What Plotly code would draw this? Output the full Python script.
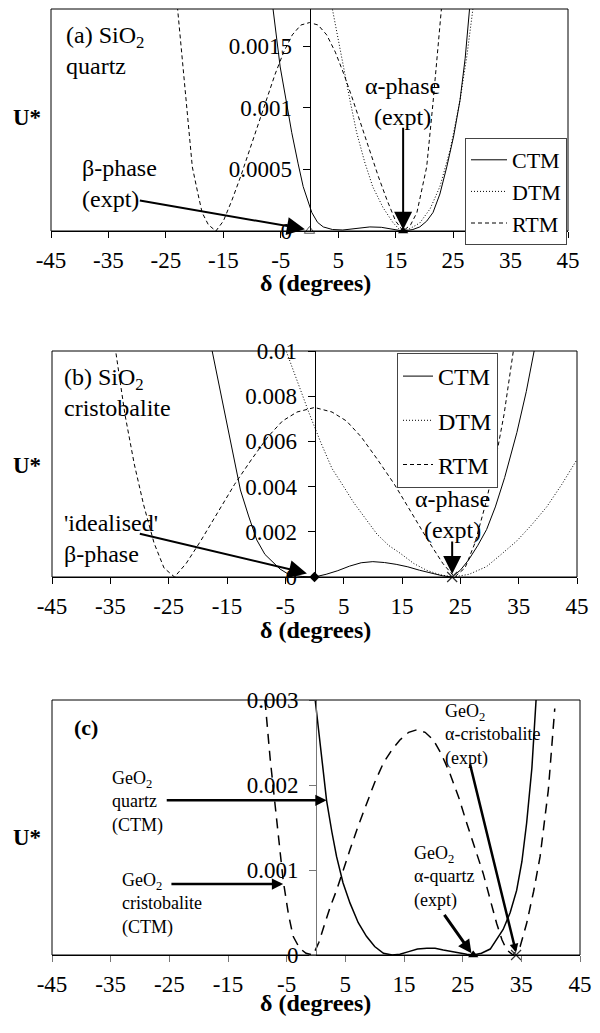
import plotly.graph_objects as go

FONT = "Liberation Serif"
W, H = 600, 1033

# ---------------- data: panel (a) SiO2 quartz ----------------
a_ctm_x = [-6.4, -5.1, -4.0, -3.1, -2.0, -1.1, 0.4, 1.4, 2.4, 4.0, 5.8, 8.0, 10.5, 12.5, 14.5,
           16.3, 18.0, 19.2, 20.4, 21.5, 22.7, 23.9, 25.1, 26.2, 27.1, 27.9]
a_ctm_u = [0.00182, 0.00133, 0.00104, 0.00080, 0.00055, 0.00036, 0.00015, 0.00007, 0.000033,
           0.000012, 0.000008, 0.000018, 0.000033, 0.00003, 0.000012, 0.0, 0.000012, 0.000033,
           0.00008, 0.00015, 0.00030, 0.00052, 0.00077, 0.00106, 0.00140, 0.00182]

a_dtm_x = [3.9, 5.0, 5.9, 7.0, 8.2, 9.6, 11.0, 12.8, 14.5, 15.5, 16.3, 17.5, 19.2, 21.0, 22.7,
           24.5, 26.2, 27.4, 28.5]
a_dtm_u = [0.00182, 0.00155, 0.00134, 0.00107, 0.00080, 0.00056, 0.00036, 0.00019, 0.00007,
           0.00002, 0.0, 0.00002, 0.000065, 0.00018, 0.00036, 0.00066, 0.00106, 0.00142, 0.00182]

a_rtm_x = [-23.0, -22.2, -21.5, -20.4, -19.5, -18.7, -17.6, -16.3, -15.0, -13.5, -12.0, -10.5,
           -9.0, -7.5, -6.0, -4.5, -3.0, -1.5, 0.0, 1.5, 3.0, 4.5, 6.0, 7.5, 9.0, 10.5, 12.0,
           13.5, 15.0, 16.3, 17.6, 18.7, 19.5, 20.4, 21.5, 22.2, 23.0]
a_rtm_u = [0.00182, 0.00140, 0.00104, 0.00052, 0.00032, 0.00015, 0.00005, 0.0, 0.00008, 0.00025,
           0.00044, 0.00065, 0.00086, 0.00107, 0.00127, 0.00145, 0.00159, 0.00167, 0.00169,
           0.00167, 0.00159, 0.00145, 0.00127, 0.00107, 0.00086, 0.00065, 0.00044, 0.00025,
           0.00008, 0.0, 0.00005, 0.00015, 0.00032, 0.00052, 0.00104, 0.00140, 0.00182]

a_beta_x, a_beta_u = [0.0], [0.0]
a_alpha_x, a_alpha_u = [16.3], [0.0]

# ---------------- data: panel (b) SiO2 cristobalite ----------------
b_ctm_x = [-17.7, -16.3, -15.0, -13.8, -12.7, -11.3, -9.9, -8.5, -7.0, -5.9, -4.7, -3.3, -2.0,
           -1.0, 0.0, 2.0, 4.0, 6.0, 8.0, 10.0, 12.0, 14.0, 16.0, 18.0, 20.0, 22.0, 23.5, 25.0,
           26.4, 28.0, 29.5, 31.0, 32.6, 34.7, 36.3, 37.8]
b_ctm_u = [0.0102, 0.0084, 0.0068, 0.0053, 0.00385, 0.0027, 0.00164, 0.0010, 0.0006, 0.00035,
           0.00016, 0.00006, 0.00002, 0.0, 0.0, 0.00012, 0.00028, 0.00048, 0.00063, 0.00068,
           0.00064, 0.00056, 0.00045, 0.0003, 0.00016, 0.00005, 0.0, 0.0003, 0.00075, 0.0014,
           0.0021, 0.0031, 0.0044, 0.0064, 0.0082, 0.0102]

b_dtm_x = [-5.0, -3.0, -1.0, 1.0, 3.0, 5.0, 6.7, 8.7, 10.7, 12.7, 14.7, 17.0, 19.2, 21.5, 23.8,
           26.5, 29.5, 32.0, 34.7, 37.2, 39.8, 42.4, 45.0]
b_dtm_u = [0.0101, 0.0087, 0.0073, 0.0060, 0.0048, 0.0040, 0.0033, 0.0026, 0.0019, 0.0014,
           0.00105, 0.0006, 0.0003, 0.0001, 0.0, 0.00012, 0.00046, 0.0010, 0.0016, 0.0023,
           0.0031, 0.0041, 0.0052]

b_rtm_x = [-34.2, -32.5, -30.9, -29.3, -27.5, -25.8, -24.0, -22.0, -19.5, -16.5, -13.7, -10.8,
           -8.0, -5.5, -3.0, 0.0, 3.0, 5.5, 8.0, 10.8, 13.7, 16.5, 19.5, 22.0, 24.0, 25.8, 27.5,
           29.3, 30.9, 32.5, 34.2]
b_rtm_u = [0.0102, 0.0072, 0.0050, 0.0032, 0.0015, 0.0004, 0.0, 0.0006, 0.0016, 0.0029, 0.0041,
           0.0052, 0.0062, 0.0069, 0.0073, 0.0075, 0.0073, 0.0069, 0.0062, 0.0052, 0.0041, 0.0029,
           0.0016, 0.0006, 0.0, 0.0004, 0.0015, 0.0032, 0.0050, 0.0072, 0.0102]

b_beta_x, b_beta_u = [0.0], [0.0]
b_alpha_x, b_alpha_u = [23.6], [0.0]

# ---------------- data: panel (c) GeO2 ----------------
c_qtz_x = [-0.3, 0.8, 1.8, 2.7, 3.5, 4.6, 5.8, 7.2, 8.6, 10.0, 11.5, 13.0, 14.3, 15.8, 17.3,
           18.9, 20.3, 21.7, 23.1, 24.5, 25.7, 26.8, 28.2, 29.7, 30.8, 31.9, 33.1, 34.2, 35.1,
           35.9, 36.8, 37.6]
c_qtz_u = [0.0031, 0.0024, 0.00182, 0.00145, 0.00116, 0.00085, 0.00061, 0.00038, 0.00022,
           0.0001, 0.00002, 0.0, 0.00001, 0.00004, 0.00007, 0.00008, 0.00008, 0.00006, 0.00004,
           0.00002, 0.00001, 0.0, 0.00002, 0.00007, 0.00018, 0.0003, 0.0005, 0.00076, 0.0011,
           0.00155, 0.0022, 0.0031]

c_cri_x = [-8.7, -7.8, -6.7, -5.6, -4.7, -3.9, -2.8, -1.7, -0.5, 0.5, 1.5, 2.5, 3.5, 4.6, 5.8,
           7.2, 8.6, 10.0, 11.5, 12.9, 14.3, 15.8, 17.2, 18.6, 20.0, 21.4, 22.8, 24.3, 25.7,
           27.1, 28.5, 29.7, 30.8, 31.7, 32.5, 33.6, 34.8, 35.9, 37.1, 38.2, 39.6, 40.7]
c_cri_u = [0.0030, 0.0023, 0.00159, 0.00088, 0.00048, 0.00022, 0.00008, 0.00002, 0.0, 0.00015,
           0.00037, 0.00058, 0.00076, 0.0010, 0.00124, 0.00152, 0.00178, 0.00203, 0.00226,
           0.00241, 0.00253, 0.00262, 0.00265, 0.00262, 0.00253, 0.00236, 0.00214, 0.00186,
           0.00155, 0.00125, 0.00096, 0.00065, 0.00037, 0.00018, 0.00006, 0.0, 0.0001, 0.00037,
           0.00075, 0.00116, 0.00194, 0.0029]

c_aq_x, c_aq_u = [26.8], [0.0]
c_ac_x, c_ac_u = [34.1], [0.0]

# ---------------- ticks ----------------
x_ticks = [-45, -35, -25, -15, -5, 5, 15, 25, 35, 45]
a_yticks = [0, 0.0005, 0.001, 0.0015]
a_yticktext = ["0", "0.0005", "0.001", "0.0015"]
b_yticks = [0, 0.002, 0.004, 0.006, 0.008, 0.01]
b_yticktext = ["0", "0.002", "0.004", "0.006", "0.008", "0.01"]
c_yticks = [0, 0.001, 0.002, 0.003]
c_yticktext = ["0", "0.001", "0.002", "0.003"]


def px(x):
    return x / W


def py(y):
    return 1 - y / H


fig = go.Figure()

ctm_line = dict(color="black", width=1)
dtm_line = dict(color="black", width=1, dash="1px,2px")
rtm_line = dict(color="black", width=1, dash="4px,3px")

# panel a
fig.add_trace(go.Scatter(x=a_ctm_x, y=a_ctm_u, mode="lines", line=ctm_line, name="CTM",
                         xaxis="x", yaxis="y", legend="legend", legendgroup="a1"))
fig.add_trace(go.Scatter(x=a_dtm_x, y=a_dtm_u, mode="lines", line=dtm_line, name="DTM",
                         xaxis="x", yaxis="y", legend="legend", legendgroup="a2"))
fig.add_trace(go.Scatter(x=a_rtm_x, y=a_rtm_u, mode="lines", line=rtm_line, name="RTM",
                         xaxis="x", yaxis="y", legend="legend", legendgroup="a3"))
fig.add_trace(go.Scatter(x=a_beta_x, y=a_beta_u, mode="markers", showlegend=False, cliponaxis=False,
                         marker=dict(symbol="triangle-up-open", size=9, color="#555", line=dict(width=1)),
                         xaxis="x", yaxis="y"))
fig.add_trace(go.Scatter(x=a_alpha_x, y=a_alpha_u, mode="markers", showlegend=False, cliponaxis=False,
                         marker=dict(symbol="triangle-up", size=9, color="black"),
                         xaxis="x", yaxis="y"))

# panel b
fig.add_trace(go.Scatter(x=b_ctm_x, y=b_ctm_u, mode="lines", line=ctm_line, name="CTM",
                         xaxis="x2", yaxis="y2", legend="legend2", legendgroup="b1"))
fig.add_trace(go.Scatter(x=b_dtm_x, y=b_dtm_u, mode="lines", line=dtm_line, name="DTM",
                         xaxis="x2", yaxis="y2", legend="legend2", legendgroup="b2"))
fig.add_trace(go.Scatter(x=b_rtm_x, y=b_rtm_u, mode="lines", line=rtm_line, name="RTM",
                         xaxis="x2", yaxis="y2", legend="legend2", legendgroup="b3"))
fig.add_trace(go.Scatter(x=b_beta_x, y=b_beta_u, mode="markers", showlegend=False, cliponaxis=False,
                         marker=dict(symbol="diamond", size=8, color="black"),
                         xaxis="x2", yaxis="y2"))
fig.add_trace(go.Scatter(x=b_alpha_x, y=b_alpha_u, mode="markers", showlegend=False, cliponaxis=False,
                         marker=dict(symbol="x-thin-open", size=10, color="#333", line=dict(width=1.2)),
                         xaxis="x2", yaxis="y2"))

# panel c
fig.add_trace(go.Scatter(x=c_qtz_x, y=c_qtz_u, mode="lines", showlegend=False,
                         line=dict(color="black", width=1.5), xaxis="x3", yaxis="y3"))
fig.add_trace(go.Scatter(x=c_cri_x, y=c_cri_u, mode="lines", showlegend=False,
                         line=dict(color="black", width=1.5, dash="10px,7px"), xaxis="x3", yaxis="y3"))
fig.add_trace(go.Scatter(x=c_aq_x, y=c_aq_u, mode="markers", showlegend=False, cliponaxis=False,
                         marker=dict(symbol="triangle-up", size=9, color="black"),
                         xaxis="x3", yaxis="y3"))
fig.add_trace(go.Scatter(x=c_ac_x, y=c_ac_u, mode="markers", showlegend=False, cliponaxis=False,
                         marker=dict(symbol="x-thin-open", size=10, color="#333", line=dict(width=1.2)),
                         xaxis="x3", yaxis="y3"))

tickfont = dict(family=FONT, size=23, color="black")


def xax(domain, anchor, tcol="black"):
    return dict(domain=domain, anchor=anchor, range=[-45, 45], tickvals=x_ticks,
                ticktext=[str(v) for v in x_ticks], showline=True, linecolor="black", linewidth=1,
                ticks="outside", ticklen=6, tickcolor=tcol, tickwidth=1, showgrid=False,
                zeroline=False, tickfont=tickfont, ticklabelstandoff=2, automargin=False)


def yax(domain, pos, rng, vals, text, lcol="black"):
    return dict(domain=domain, anchor="free", position=pos, range=rng, tickvals=vals,
                ticktext=text, showline=True, linecolor=lcol, linewidth=1, ticks="outside",
                ticklen=7, tickcolor=lcol, showgrid=False, zeroline=False, tickfont=tickfont,
                ticklabelstandoff=6, automargin=False)


a_dx = [px(51), px(568)]
a_dy = [py(231), py(9)]
b_dx = [px(52), px(577)]
b_dy = [py(577), py(351)]
c_dx = [px(52), px(580)]
c_dy = [py(955), py(700)]

fig.update_layout(
    width=W, height=H, margin=dict(l=0, r=0, t=0, b=0, pad=0, autoexpand=False),
    paper_bgcolor="white", plot_bgcolor="white",
    font=dict(family=FONT, size=24, color="black"),
    xaxis=xax(a_dx, "y"),
    yaxis=yax(a_dy, (a_dx[0] + a_dx[1]) / 2, [0, 0.0018], a_yticks, a_yticktext),
    xaxis2=xax(b_dx, "y2"),
    yaxis2=yax(b_dy, (b_dx[0] + b_dx[1]) / 2, [0, 0.01], b_yticks, b_yticktext),
    xaxis3=xax(c_dx, "y3", "#777"),
    yaxis3=yax(c_dy, (c_dx[0] + c_dx[1]) / 2, [0, 0.003], c_yticks, c_yticktext, "#777"),
    legend=dict(x=px(567), y=py(138), xanchor="right", yanchor="top", bgcolor="white",
                bordercolor="#444", borderwidth=1, font=dict(family=FONT, size=22),
                tracegroupgap=0, itemwidth=36),
    legend2=dict(x=px(397), y=py(353), xanchor="left", yanchor="top", bgcolor="white",
                 bordercolor="#444", borderwidth=1, font=dict(family=FONT, size=24),
                 tracegroupgap=10, itemwidth=30),
    showlegend=True,
)

# frames
for xr, yr in [("x", "y"), ("x2", "y2"), ("x3", "y3")]:
    fig.add_shape(type="rect", xref=f"{xr} domain", yref=f"{yr} domain", x0=0, x1=1, y0=0, y1=1,
                  line=dict(color="black", width=1), layer="above")

ann = []


def text(x, y, t, size=24, xanchor="left", align="left", bold=False):
    if bold:
        t = f"<b>{t}</b>"
    ann.append(dict(x=px(x), y=py(y), xref="paper", yref="paper", text=t, showarrow=False,
                    xanchor=xanchor, yanchor="middle", align=align,
                    font=dict(family=FONT, size=size, color="black")))


def arrow(xr, yr, tip, tail, width=2, size=1.8, head=2):
    ann.append(dict(x=tip[0], y=tip[1], ax=tail[0], ay=tail[1], xref=xr, yref=yr, axref=xr,
                    ayref=yr, text="", showarrow=True, arrowhead=head, arrowsize=size,
                    arrowwidth=width, arrowcolor="black", standoff=0))


# axis titles
for yc in (117, 465, 837):
    text(27, yc, "U*", size=23, xanchor="center", bold=True)
for yc in (283, 630, 1003):
    text(315, yc, "δ (degrees)", size=24, xanchor="center", align="center", bold=True)

# panel a labels
text(64, 50, "(a) SiO<sub>2</sub><br>quartz")
text(80, 184, "β-phase<br>(expt)")
text(402, 102, "α-phase<br>(expt)", xanchor="center", align="center")
arrow("x", "y", (-0.8, 0.000015), (-29.8, 0.00025))
arrow("x", "y", (a_alpha_x[0], 0.00001), (a_alpha_x[0], 0.00085))

# panel b labels
text(62, 393, "(b) SiO<sub>2</sub><br>cristobalite")
text(62, 538, "'idealised'<br>β-phase")
text(452, 514, "α-phase<br>(expt)", xanchor="center", align="center")
arrow("x2", "y2", (-1.3, 0.00016), (-30.2, 0.00193))
arrow("x2", "y2", (b_alpha_x[0], 0.00013), (b_alpha_x[0], 0.00164))

# panel c labels
text(72, 727, "(c)", size=22, bold=True)
text(110, 802, "GeO<sub>2</sub><br>quartz<br>(CTM)", size=18)
text(120, 904, "GeO<sub>2</sub><br>cristobalite<br>(CTM)", size=18)
text(443, 735, "GeO<sub>2</sub><br>α-cristobalite<br>(expt)", size=18)
text(412, 877, "GeO<sub>2</sub><br>α-quartz<br>(expt)", size=18)
arrow("x3", "y3", (1.8, 0.00182), (-25.7, 0.00182), width=2.5, size=0.9)
arrow("x3", "y3", (-5.6, 0.000835), (-24.9, 0.000835), width=2.5, size=0.9)
arrow("x3", "y3", (c_ac_x[0], 0.00003), (26.2, 0.00226), width=2.5, size=0.7)
arrow("x3", "y3", (c_aq_x[0] - 0.3, 0.00002), (21.7, 0.00049), width=3, size=0.9)

fig.update_layout(annotations=ann)

fig.write_html("out.html", config={"displayModeBar": False},
               post_script="document.body.style.margin='0';document.body.style.overflow='hidden';")
